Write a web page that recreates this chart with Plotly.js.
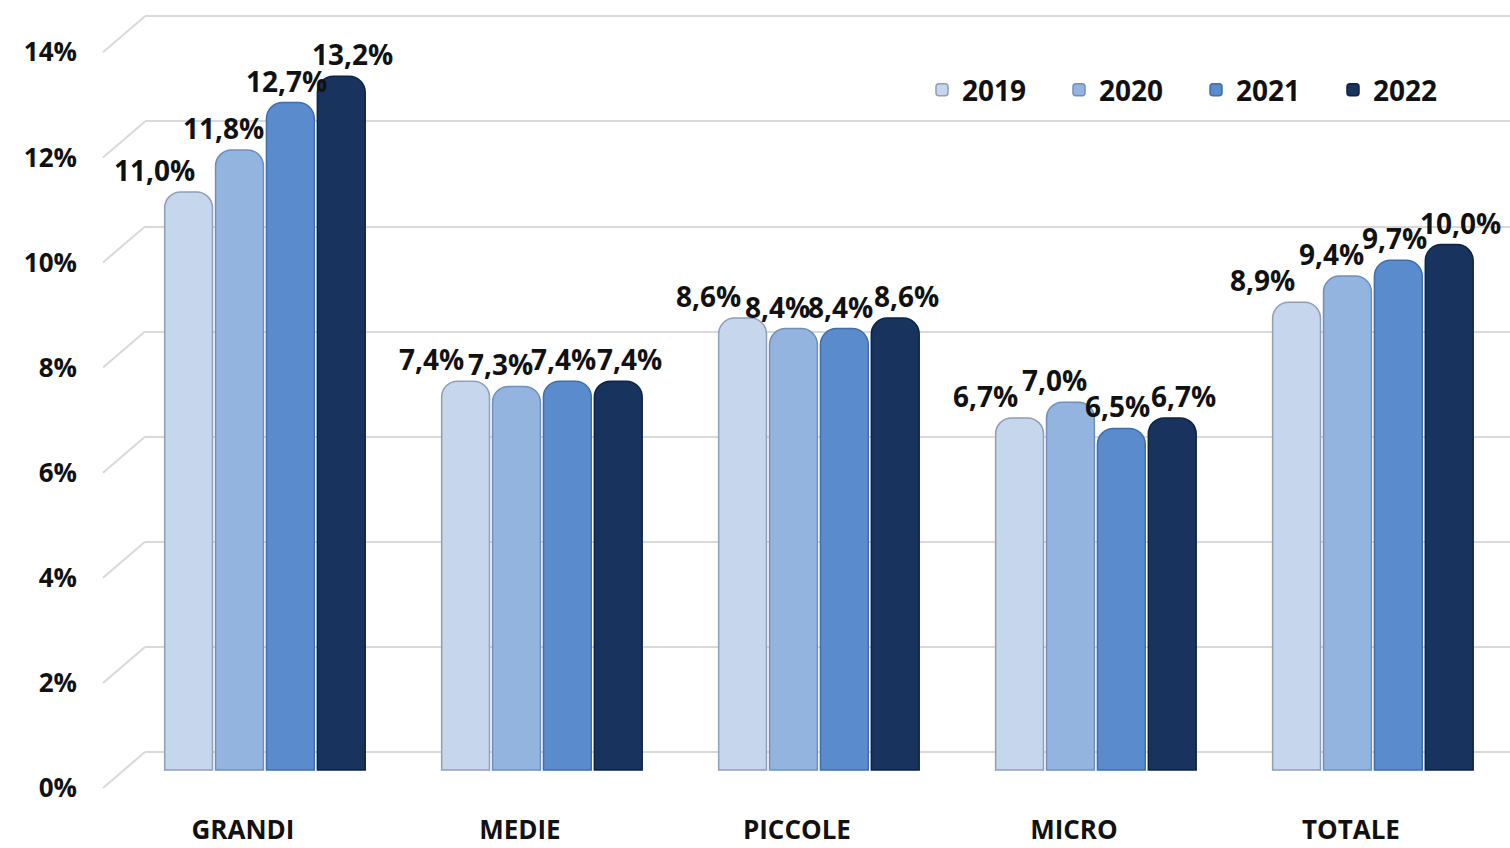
<!DOCTYPE html>
<html>
<head>
<meta charset="utf-8">
<script src="https://cdn.plot.ly/plotly-3.0.1.min.js"></script>
<style>
  html, body { margin: 0; padding: 0; background: #ffffff; }
  #chart { width: 1510px; height: 848px; }
</style>
</head>
<body>
<div id="chart"></div>
<script>
// ---- data ----
const categories = ['GRANDI', 'MEDIE', 'PICCOLE', 'MICRO', 'TOTALE'];
const years = ['2019', '2020', '2021', '2022'];
const values2019 = [11.0, 7.4, 8.6, 6.7, 8.9];
const values2020 = [11.8, 7.3, 8.4, 7.0, 9.4];
const values2021 = [12.7, 7.4, 8.4, 6.5, 9.7];
const values2022 = [13.2, 7.4, 8.6, 6.7, 10.0];
const yTickValues = [0, 2, 4, 6, 8, 10, 12, 14];
const yTickLabels = ['0%', '2%', '4%', '6%', '8%', '10%', '12%', '14%'];

// ---- style ----
const seriesValues = [values2019, values2020, values2021, values2022];
const fillColors = ['#c6d6ec', '#93b4de', '#5a8ccd', '#17335e'];
const edgeColors = ['#8e9fb6', '#6f8fbb', '#3f6ea8', '#0e2344'];
const FONT = 'Open Sans, Noto Sans, sans-serif';
const labelXShift = [-34, -16, -4, 11];   // label offset from bar centre (px)
const BAR_PITCH = 51;                      // px per bar slot inside a group

function fmt(v) { return v.toFixed(1).replace('.', ',') + '%'; }

const traces = years.map((yr, i) => ({
  type: 'bar',
  name: yr,
  x: categories,
  y: seriesValues[i],
  marker: { color: fillColors[i], line: { color: edgeColors[i], width: 1.5 }, cornerradius: 16 },
  hoverinfo: 'skip'
}));

// helper traces so the overlaid helper axes are drawn
traces.push({ type: 'scatter', x: categories, y: categories.map(() => null), xaxis: 'x', yaxis: 'y2', showlegend: false, hoverinfo: 'skip', mode: 'none' });
traces.push({ type: 'scatter', x: categories, y: categories.map(() => null), xaxis: 'x', yaxis: 'y3', showlegend: false, hoverinfo: 'skip', mode: 'none' });
traces.push({ type: 'scatter', x: categories, y: categories.map(() => null), xaxis: 'x3', yaxis: 'y', showlegend: false, hoverinfo: 'skip', mode: 'none' });

// value labels, placed on the data through the bar axes
const annotations = [];
years.forEach((yr, i) => {
  categories.forEach((c, j) => {
    annotations.push({
      xref: 'x', yref: 'y', x: c, y: seriesValues[i][j],
      text: fmt(seriesValues[i][j]), showarrow: false,
      xanchor: 'center', yanchor: 'middle',
      xshift: (i - 1.5) * BAR_PITCH + labelXShift[i], yshift: 22,
      font: { family: FONT, size: 28, color: '#111111', weight: 'bold' }
    });
  });
});

// pixel geometry of the pseudo-3D box
const PX_PER_UNIT = 52.55;
const H = 848, W = 1510;
const domTop = 10, domBot = 800;
function rangeFor(zeroPx) { return [-(domBot - zeroPx) / PX_PER_UNIT, (zeroPx - domTop) / PX_PER_UNIT]; }

const shapes = yTickValues.map(v => ({
  type: 'line', layer: 'below', xref: 'paper', yref: 'y3',
  x0: 103 / W, x1: 145 / W, y0: v, y1: v + 36 / PX_PER_UNIT,
  line: { color: '#d9d9d9', width: 2 }
}));

const layout = {
  width: W, height: H,
  margin: { l: 0, r: 0, t: 0, b: 0, autoexpand: false },
  paper_bgcolor: '#ffffff', plot_bgcolor: 'rgba(0,0,0,0)',
  barmode: 'group', bargap: 0.265, bargroupgap: 0.06,
  showlegend: true,
  legend: {
    orientation: 'h', x: 922 / W, xanchor: 'left', y: (H - 90) / H, yanchor: 'middle',
    font: { family: FONT, size: 28, color: '#111111', weight: 'bold' },
    entrywidth: 92, entrywidthmode: 'pixels', bgcolor: 'rgba(0,0,0,0)', traceorder: 'normal'
  },
  xaxis: {
    domain: [145 / W, 1], range: [-0.433, 4.495], type: 'category',
    categoryorder: 'array', categoryarray: categories,
    showticklabels: false, showgrid: false, zeroline: false, showline: false, ticks: ''
  },
  xaxis3: {
    overlaying: 'x', anchor: 'free', position: (H - 812) / H, side: 'bottom',
    range: [-0.433 + 22 / 277, 4.495 + 22 / 277], type: 'category',
    categoryorder: 'array', categoryarray: categories,
    showgrid: false, zeroline: false, showline: false, ticks: '',
    tickfont: { family: FONT, size: 26, color: '#111111', weight: 'bold' }
  },
  yaxis: {
    domain: [(H - domBot) / H, (H - domTop) / H], range: rangeFor(770),
    showticklabels: false, showgrid: false, zeroline: false, showline: false, ticks: ''
  },
  yaxis2: {
    overlaying: 'y', range: rangeFor(752), anchor: 'x',
    tickvals: yTickValues, showticklabels: false, showgrid: true,
    gridcolor: '#d9d9d9', gridwidth: 2, zeroline: false, showline: false, ticks: ''
  },
  yaxis3: {
    overlaying: 'y', range: rangeFor(788), anchor: 'free', position: 77 / W, side: 'left',
    tickvals: yTickValues, ticktext: yTickLabels, showgrid: false, zeroline: false,
    showline: false, ticks: '',
    tickfont: { family: FONT, size: 26, color: '#111111', weight: 'bold' }
  },
  shapes: shapes,
  annotations: annotations,
  font: { family: FONT }
};

Plotly.newPlot('chart', traces, layout, { displayModeBar: false, staticPlot: true });
</script>
</body>
</html>
